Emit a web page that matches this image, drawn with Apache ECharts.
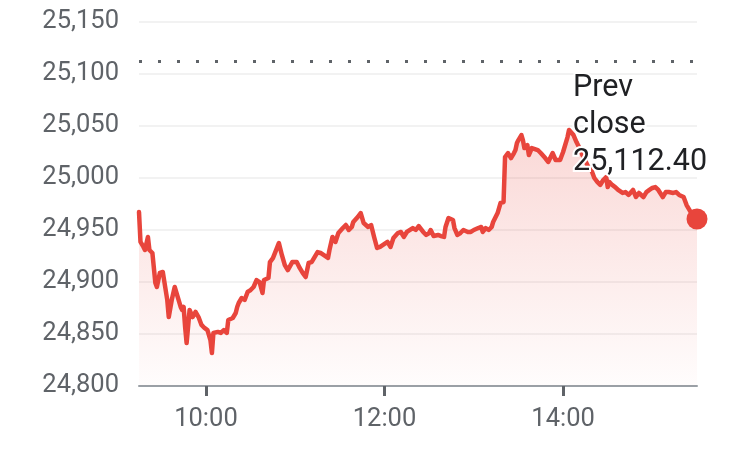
<!DOCTYPE html>
<html>
<head>
<meta charset="utf-8">
<script src="https://cdn.jsdelivr.net/npm/echarts@6/dist/echarts.min.js"></script>
<style>
html,body{margin:0;padding:0;background:#fff;}
#chart{width:756px;height:449px;}
</style>
</head>
<body>
<div id="chart"></div>
<script>
const times = ["09:15","09:16","09:18","09:19","09:21","09:22","09:24","09:26","09:27","09:29","09:31","09:34","09:35","09:37","09:39","09:41","09:43","09:44","09:45","09:46","09:47","09:49","09:51","09:53","09:55","09:57","09:59","10:01","10:03","10:04","10:05","10:08","10:10","10:12","10:14","10:15","10:18","10:20","10:21","10:22","10:24","10:26","10:28","10:30","10:32","10:34","10:36","10:38","10:39","10:42","10:43","10:45","10:48","10:49","10:51","10:53","10:55","10:58","11:01","11:03","11:05","11:07","11:09","11:11","11:15","11:17","11:19","11:22","11:23","11:25","11:27","11:29","11:32","11:34","11:36","11:38","11:39","11:42","11:44","11:46","11:49","11:51","11:53","11:55","11:57","11:59","12:02","12:04","12:06","12:09","12:11","12:13","12:15","12:19","12:21","12:23","12:26","12:28","12:30","12:31","12:33","12:36","12:38","12:40","12:41","12:43","12:46","12:47","12:49","12:51","12:53","12:56","12:58","13:00","13:03","13:05","13:06","13:08","13:10","13:12","13:13","13:16","13:18","13:20","13:21","13:23","13:25","13:27","13:28","13:29","13:30","13:32","13:33","13:34","13:36","13:37","13:39","13:40","13:43","13:45","13:48","13:50","13:53","13:55","13:58","14:00","14:03","14:04","14:07","14:09","14:11","14:13","14:17","14:19","14:21","14:23","14:25","14:27","14:29","14:30","14:31","14:33","14:35","14:37","14:40","14:42","14:44","14:47","14:49","14:51","14:54","14:56","14:58","15:00","15:02","15:04","15:07","15:09","15:11","15:14","15:16","15:18","15:21","15:23","15:25","15:27","15:30"];
const prices = [24967.3,24938.5,24933.7,24930.8,24943.3,24930.8,24927.9,24899.0,24895.2,24908.7,24909.6,24882.7,24866.3,24882.7,24895.2,24885.6,24876.0,24873.1,24876.0,24856.7,24841.3,24873.1,24866.3,24871.2,24866.3,24858.7,24855.8,24853.8,24844.2,24831.7,24851.0,24852.0,24851.0,24853.8,24851.0,24863.5,24865.4,24870.2,24876.0,24879.8,24884.6,24882.7,24890.4,24892.3,24895.2,24901.9,24900.0,24889.4,24901.9,24903.8,24919.2,24923.0,24933.7,24937.5,24926.0,24916.3,24911.5,24919.2,24919.2,24913.5,24908.7,24904.8,24918.3,24919.2,24928.8,24927.9,24926.0,24923.1,24930.8,24943.3,24938.5,24947.1,24951.9,24954.8,24950.0,24952.9,24957.7,24962.5,24966.3,24956.7,24952.9,24954.8,24943.3,24932.7,24933.7,24935.6,24938.5,24933.7,24942.3,24947.1,24948.1,24943.3,24948.1,24951.9,24950.0,24953.8,24948.1,24945.2,24947.1,24950.0,24944.2,24945.2,24944.2,24943.3,24952.9,24961.5,24959.6,24951.9,24945.2,24947.1,24950.0,24948.1,24948.1,24950.0,24951.9,24952.9,24948.1,24951.9,24950.0,24952.9,24957.7,24966.3,24976.0,24976.9,25020.2,25024.0,25019.2,25024.0,25026.9,25033.7,25036.5,25041.3,25036.5,25028.8,25031.7,25022.1,25028.8,25029.8,25026.9,25024.0,25019.2,25015.4,25024.0,25017.3,25017.3,25025.0,25039.4,25046.2,25041.3,25034.6,25028.8,25022.1,25010.6,25007.7,25000.0,24996.2,24993.3,24998.1,25001.0,24991.3,24996.2,24993.3,24991.3,24988.5,24985.6,24986.5,24983.7,24988.5,24981.7,24985.6,24981.7,24986.5,24988.5,24990.4,24991.3,24988.5,24981.7,24986.5,24986.5,24985.6,24986.5,24983.7,24981.7,24974.0,24969.2,24964.4,24960.6];
const prevClose = 25112.40;
const yTicks = [24800, 24850, 24900, 24950, 25000, 25050, 25100, 25150];
const xTickLabels = ["10:00", "12:00", "14:00"];
const sessionStart = "09:15";
const sessionEnd = "15:30";

function toMin(t){ const p = t.split(':'); return +p[0]*60 + +p[1]; }
function fmtMin(m){ const h = Math.floor(m/60), mm = m%60; return h + ':' + String(mm).padStart(2,'0'); }
function fmtNum(v){ return v.toLocaleString('en-US', {maximumFractionDigits: 2}); }

const seriesData = times.map((t,i) => [toMin(t), prices[i]]);
const lastPoint = seriesData[seriesData.length-1];
const xTickValues = xTickLabels.map(toMin);

const chart = echarts.init(document.getElementById('chart'), null, {renderer:'canvas'});
const RED = '#e8453c';
chart.setOption({
  animation: false,
  backgroundColor: '#ffffff',
  grid: {left: 139, right: 59, top: 22, bottom: 63, containLabel: false},
  xAxis: {
    type: 'value',
    min: toMin(sessionStart),
    max: toMin(sessionEnd),
    splitLine: {show: false},
    axisLine: {show: true, lineStyle: {color: '#9aa0a6', width: 2}},
    axisTick: {show: true, customValues: xTickValues, length: 10, lineStyle: {color: '#5f6368', width: 3}},
    axisLabel: {show: true, customValues: xTickValues, formatter: v => fmtMin(v), color: '#5f6368', fontSize: 25.5, fontFamily: 'Roboto', margin: 21}
  },
  yAxis: {
    type: 'value',
    min: yTicks[0],
    max: yTicks[yTicks.length-1],
    interval: yTicks[1]-yTicks[0],
    axisLine: {show: false},
    axisTick: {show: false},
    splitLine: {show: true, lineStyle: {color: '#eeeeee', width: 1.5}},
    axisLabel: {formatter: v => fmtNum(v), color: '#5f6368', fontSize: 25.5, fontFamily: 'Roboto', margin: 20}
  },
  series: [
    {
      type: 'line',
      data: seriesData,
      showSymbol: false,
      symbol: 'none',
      lineStyle: {color: RED, width: 4.5, join: 'round', cap: 'round'},
      areaStyle: {
        origin: 'start',
        color: new echarts.graphic.LinearGradient(0,0,0,1,[
          {offset: 0, color: 'rgba(232,69,60,0.30)'},
          {offset: 1, color: 'rgba(232,69,60,0.02)'}
        ])
      },
      markLine: {
        silent: true,
        symbol: 'none',
        label: {show: false},
        lineStyle: {color: '#5f6368', type: [3, 16], width: 3, opacity: 1},
        data: [{yAxis: prevClose}]
      },
      z: 3
    },
    {
      type: 'scatter',
      data: [lastPoint],
      symbol: 'circle',
      symbolSize: 21,
      itemStyle: {color: RED, opacity: 1},
      z: 5
    }
  ],
  graphic: [{
    type: 'text',
    left: 571,
    top: 70,
    z: 10,
    style: {
      text: 'Prev\nclose\n' + fmtNum(prevClose).replace(/(\.\d)$/, '$10'),
      fill: '#202124',
      font: '30.5px Roboto',
      lineHeight: 37,
      stroke: '#ffffff',
      lineWidth: 4
    }
  }]
});
</script>
</body>
</html>
